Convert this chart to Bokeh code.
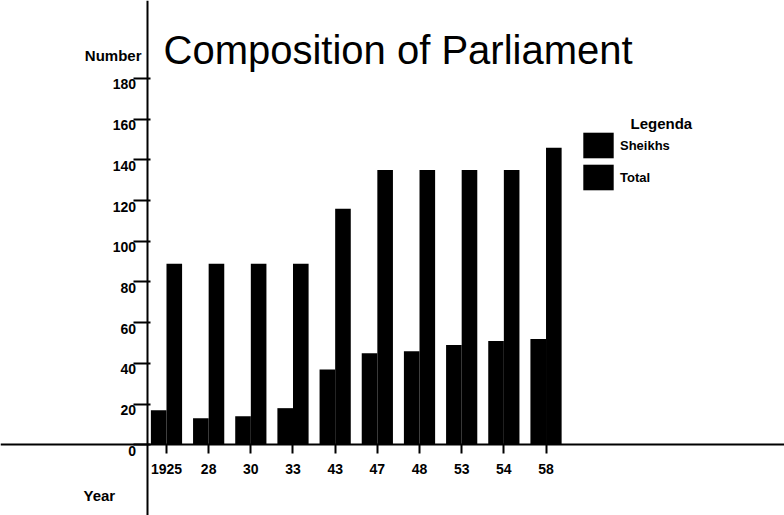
from bokeh.plotting import figure
from bokeh.models import (ColumnDataSource, FixedTicker, Range1d, Label, Legend,
                          LegendItem)
from bokeh.core.properties import value
from bokeh.transform import dodge
from bokeh.embed import file_html
from bokeh.resources import INLINE

years = ["1925", "28", "30", "33", "43", "47", "48", "53", "54", "58"]
sheikhs = [17, 13, 14, 18, 37, 45, 46, 49, 51, 52]
total = [89, 89, 89, 89, 116, 135, 135, 135, 135, 146]
y_ticks = [0, 20, 40, 60, 80, 100, 120, 140, 160, 180]
y_tick_labels = [str(t) for t in y_ticks]

W, H = 784, 515
idx = list(range(len(years)))
src = ColumnDataSource(dict(idx=idx, year=years, sheikhs=sheikhs, total=total))

p = figure(width=W, height=H, output_backend="svg", toolbar_location=None,
           x_range=Range1d(-3.936, 14.655), y_range=Range1d(-34.74, 218.3),
           min_border=0, min_border_left=0, min_border_right=0,
           min_border_top=0, min_border_bottom=0)
p.outline_line_color = None
p.background_fill_color = "white"
p.border_fill_color = "white"
p.xgrid.visible = False
p.ygrid.visible = False

YAX = -0.462  # x position of vertical axis

# axes inside the frame
xa = p.xaxis[0]
xa.fixed_location = 0
xa.ticker = FixedTicker(ticks=idx)
xa.major_label_overrides = {i: y for i, y in zip(idx, years)}
xa.axis_line_width = 2
xa.axis_line_color = "black"
xa.major_tick_out = 9
xa.major_tick_in = 0
xa.major_tick_line_width = 2
xa.minor_tick_line_color = None
xa.major_label_standoff = 10
xa.major_label_text_font = "Liberation Sans"
xa.major_label_text_font_style = "bold"
xa.major_label_text_font_size = "14px"
xa.major_label_text_color = "black"

ya = p.yaxis[0]
ya.fixed_location = YAX
ya.ticker = FixedTicker(ticks=y_ticks)
ya.axis_line_width = 2
ya.axis_line_color = "black"
ya.major_tick_out = 14
ya.major_tick_in = 3
ya.major_tick_line_width = 2
ya.minor_tick_line_color = None
ya.major_label_text_alpha = 0
ya.major_label_text_font_size = "1px"

p.text(x=[YAX] * len(y_ticks), y=y_ticks, text=y_tick_labels,
       x_offset=-11, y_offset=6, text_align="right", text_baseline="middle",
       text_font=value("Liberation Sans"), text_font_style="bold",
       text_font_size=value("14px"), text_color="black")

r1 = p.vbar(x=dodge("idx", -0.185, range=p.x_range), top="sheikhs", width=0.37,
            bottom=0, source=src, fill_color="black", line_color=None)
r2 = p.vbar(x=dodge("idx", 0.185, range=p.x_range), top="total", width=0.37,
            bottom=0, source=src, fill_color="black", line_color=None)

legend = Legend(items=[LegendItem(label="Sheikhs", renderers=[r1]),
                       LegendItem(label="Total", renderers=[r2])],
                location=(579, 322), orientation="vertical",
                glyph_width=38, glyph_height=32, spacing=0, label_standoff=3,
                padding=0, margin=0, border_line_color=None,
                background_fill_alpha=0, label_text_font="Liberation Sans",
                label_text_font_style="bold", label_text_font_size="13px",
                label_text_color="black", label_text_baseline="top",
                label_height=32)
p.add_layout(legend)

def lab(x, y, text, size, style="bold", align="left", baseline="middle"):
    p.add_layout(Label(x=x, y=y, x_units="screen", y_units="screen", text=text,
                       text_font="Liberation Sans", text_font_style=style,
                       text_font_size=size, text_align=align,
                       text_baseline=baseline, text_color="black"))

lab(163, H - 49.3, "Composition of Parliament", "40px", style="normal",
    baseline="alphabetic")
lab(141, H - 55, "Number", "15px", align="right")
lab(83, H - 495, "Year", "15px")
lab(630, H - 123, "Legenda", "15px")

open("out.html", "w").write(file_html(p, INLINE))
